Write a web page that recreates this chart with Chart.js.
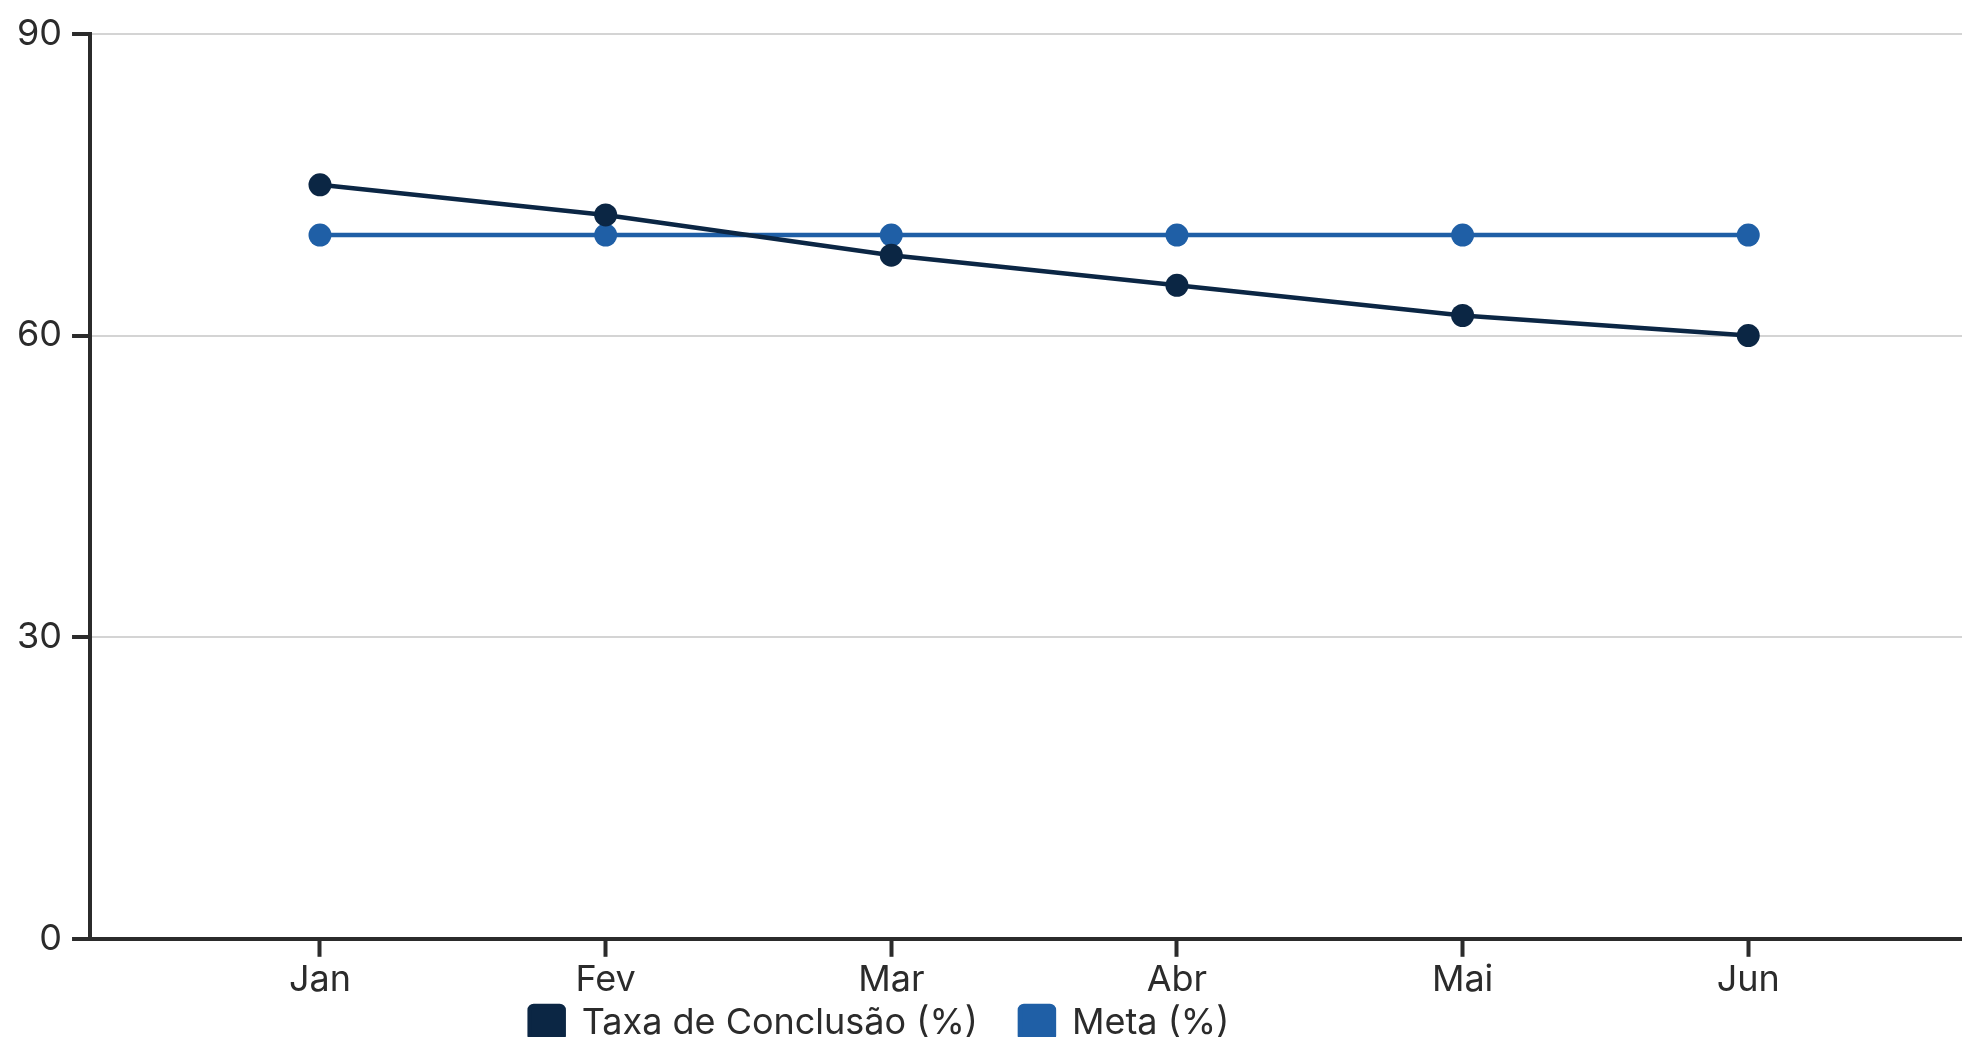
<!DOCTYPE html>
<html>
<head>
<meta charset="utf-8">
<script src="https://cdn.jsdelivr.net/npm/chart.js@4/dist/chart.umd.min.js"></script>
<style>
  html, body { margin: 0; padding: 0; overflow: hidden; background: #fff; }
  #wrap { position: relative; width: 1974px; height: 1092px; }
</style>
</head>
<body>
<div id="wrap"><canvas id="chartjs"></canvas></div>
<script>
const months = ["Jan", "Fev", "Mar", "Abr", "Mai", "Jun"];
const taxaConclusao = [75, 72, 68, 65, 62, 60];
const meta = [70, 70, 70, 70, 70, 70];
const yTicks = [0, 30, 60, 90];

const navy = '#0b2644';
const blue = '#1f5fa6';
const ink = '#2b2b2b';

const toPoints = (values) => values.map((v, i) => ({ x: i, y: v }));

// the legend in the reference sits left of the centre and close under the axis
const legendShift = {
    id: 'legendShift',
    afterLayout(chart) {
        const lg = chart.legend;
        lg.left -= 111;
        lg.right -= 111;
        lg.top -= 41;
        lg.bottom -= 41;
    }
};

let ctx = document.getElementById('chartjs').getContext('2d');

Chart.defaults.font.family = 'Inter';
Chart.defaults.font.size = 36;
Chart.defaults.color = ink;

let chart = new Chart(ctx, {
    type: 'line',
    data: {
        datasets: [{
            label: 'Taxa de Conclusão (%)',
            data: toPoints(taxaConclusao),
            borderColor: navy,
            backgroundColor: navy,
            borderWidth: 4.5,
            pointRadius: 11.5,
            pointHoverRadius: 11.5,
            pointBorderWidth: 0,
            tension: 0,
            fill: false
        }, {
            label: 'Meta (%)',
            data: toPoints(meta),
            borderColor: blue,
            backgroundColor: blue,
            borderWidth: 4.5,
            pointRadius: 11.5,
            pointHoverRadius: 11.5,
            pointBorderWidth: 0,
            tension: 0,
            fill: false
        }]
    },
    plugins: [legendShift],
    options: {
        responsive: true,
        maintainAspectRatio: false,
        animation: false,
        layout: { padding: { top: 34, right: 0, left: 7, bottom: 0 } },
        scales: {
            x: {
                type: 'linear',
                min: -0.805,
                max: 5.75,
                afterBuildTicks: (scale) => {
                    scale.ticks = months.map((_, i) => ({ value: i }));
                },
                ticks: {
                    padding: 2,
                    color: ink,
                    callback: (value) => months[value]
                },
                grid: {
                    drawOnChartArea: false,
                    drawTicks: true,
                    tickLength: 18,
                    tickColor: ink,
                    tickWidth: 4
                },
                border: { color: ink, width: 4 }
            },
            y: {
                min: 0,
                max: 90,
                afterBuildTicks: (scale) => {
                    scale.ticks = yTicks.map(v => ({ value: v }));
                },
                ticks: { padding: 10, color: ink },
                grid: {
                    color: '#d4d4d4',
                    lineWidth: 2,
                    tickLength: 18,
                    tickColor: ink,
                    tickWidth: 4
                },
                border: { color: ink, width: 4 }
            }
        },
        plugins: {
            legend: {
                position: 'bottom',
                labels: {
                    boxWidth: 34,
                    boxHeight: 34,
                    padding: 42,
                    useBorderRadius: true,
                    borderRadius: 4,
                    color: ink
                }
            },
            tooltip: { enabled: false }
        }
    }
});
</script>
</body>
</html>
